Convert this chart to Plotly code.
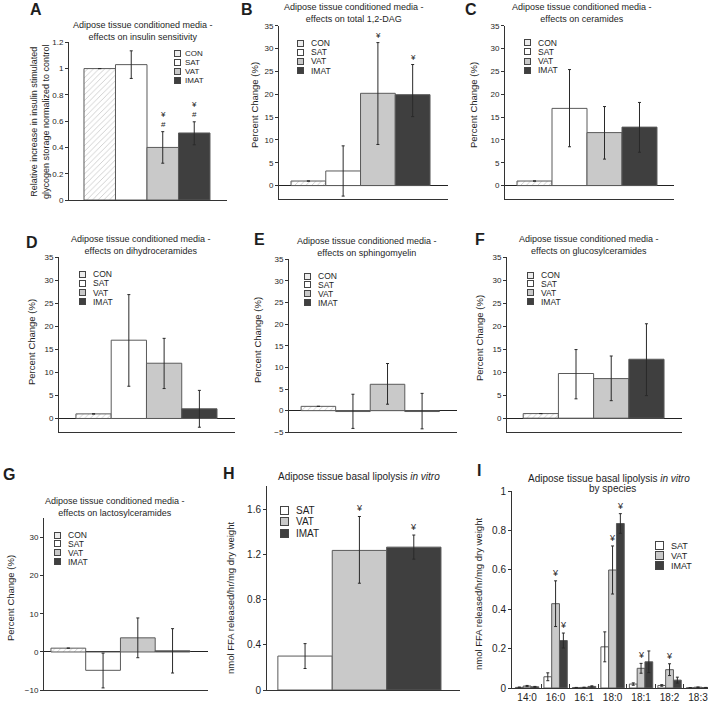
import plotly.graph_objects as go

W, H = 710, 703
FONT = "Liberation Sans, Arial, sans-serif"
TXT = "#1e1e1e"

# ---------------- data ----------------
groups4 = ["CON", "SAT", "VAT", "IMAT"]
groups3 = ["SAT", "VAT", "IMAT"]

# A: insulin sensitivity (relative, normalized to control)
A_vals = [1.0, 1.03, 0.40, 0.51]
A_hi = [0, 0.105, 0.12, 0.085]
A_lo = [0, 0.105, 0.12, 0.09]
A_sig = ["", "", "¥<br>#", "¥<br>#"]

# B: total 1,2-DAG (% change)
B_vals = [1.0, 3.2, 20.2, 19.9]
B_hi = [0, 5.5, 11.1, 6.6]
B_lo = [0, 5.5, 11.2, 4.8]
B_sig = ["", "", "¥", "¥"]

# C: ceramides
C_vals = [1.0, 16.9, 11.6, 12.8]
C_hi = [0, 8.5, 5.7, 5.4]
C_lo = [0, 8.4, 5.8, 5.5]
C_sig = ["", "", "", ""]

# D: dihydroceramides
D_vals = [1.0, 17.0, 12.0, 2.1]
D_hi = [0, 9.9, 5.4, 4.0]
D_lo = [0, 10.0, 5.5, 4.0]
D_sig = ["", "", "", ""]

# E: sphingomyelin
E_vals = [1.0, -0.2, 6.1, -0.2]
E_hi = [0, 4.0, 4.8, 4.2]
E_lo = [0, 3.9, 4.6, 4.0]
E_sig = ["", "", "", ""]

# F: glucosylceramides
F_vals = [1.0, 9.7, 8.6, 12.8]
F_hi = [0, 5.2, 4.9, 7.7]
F_lo = [0, 5.5, 4.8, 7.9]
F_sig = ["", "", "", ""]

# G: lactosylceramides
G_vals = [1.0, -4.8, 3.7, 0.3]
G_hi = [0, 4.5, 5.2, 5.8]
G_lo = [0, 4.6, 5.2, 5.8]
G_sig = ["", "", "", ""]

# H: basal lipolysis (nmol FFA released/hr/mg dry weight)
H_vals = [0.30, 1.234, 1.263]
H_hi = [0.11, 0.30, 0.107]
H_lo = [0.11, 0.29, 0.106]
H_sig = ["", "¥", "¥"]

# I: basal lipolysis by species
species = ["14:0", "16:0", "16:1", "18:0", "18:1", "18:2", "18:3"]
I_SAT = [0.003, 0.057, 0.002, 0.209, 0.020, 0.013, 0.001]
I_SAT_err = [0.002, 0.020, 0.001, 0.076, 0.006, 0.004, 0.001]
I_VAT = [0.010, 0.428, 0.003, 0.599, 0.100, 0.093, 0.004]
I_VAT_err = [0.003, 0.116, 0.001, 0.122, 0.025, 0.030, 0.001]
I_IMAT = [0.006, 0.241, 0.008, 0.835, 0.133, 0.040, 0.002]
I_IMAT_err = [0.002, 0.038, 0.003, 0.050, 0.055, 0.015, 0.001]
I_SAT_sig = ["", "", "", "", "", "", ""]
I_VAT_sig = ["", "¥", "", "¥", "¥", "¥", ""]
I_IMAT_sig = ["", "¥", "", "¥", "", "", ""]

# ---------------- styles ----------------
fill = {"CON": "white", "SAT": "white", "VAT": "#c9c9c9", "IMAT": "#3f3f3f"}
hatch = {"CON": "/", "SAT": "", "VAT": "", "IMAT": ""}
legend_bg = {"CON": "#ececec", "SAT": "white", "VAT": "#c9c9c9", "IMAT": "#3f3f3f"}
EDGE = "#5a5a5a"
ERR = dict(color="#2a2a2a", thickness=1, width=1.5)


def fx(px):
    return px / W


def fy(py):
    return 1 - py / H


fig = go.Figure()
annotations = []
layout_axes = {}


def axis_names(i):
    return ("x" if i == 1 else f"x{i}"), ("y" if i == 1 else f"y{i}")


def add_axes(i, xd, yd, yr, dtick, xr, zeroline, tickfs, xcat_labels=False):
    xn, yn = axis_names(i)
    xkey = "xaxis" if i == 1 else f"xaxis{i}"
    ykey = "yaxis" if i == 1 else f"yaxis{i}"
    xa = dict(domain=[fx(xd[0]), fx(xd[1])], range=xr, anchor=yn, type="category",
              showline=True, linecolor="#333", linewidth=1, showgrid=False,
              zeroline=False, fixedrange=True, automargin=False)
    if xcat_labels:
        xa.update(showticklabels=True, ticks="inside", tickson="boundaries",
                  ticklen=4, tickcolor="#333", tickangle=0,
                  tickfont=dict(family=FONT, size=10, color=TXT))
    else:
        xa.update(showticklabels=False, ticks="")
    ya = dict(domain=[fy(yd[1]), fy(yd[0])], range=yr, anchor=xn, dtick=dtick, tick0=0,
              showline=True, linecolor="#333", linewidth=1, ticks="outside",
              ticklen=3, tickcolor="#333", showgrid=False, automargin=False,
              zeroline=zeroline, zerolinecolor="#222", zerolinewidth=1, fixedrange=True,
              tickfont=dict(family=FONT, size=tickfs, color=TXT))
    layout_axes[xkey] = xa
    layout_axes[ykey] = ya


def legend(items, cx, ys, tx, box, fs):
    for g, y in zip(items, ys):
        annotations.append(dict(xref="paper", yref="paper", x=fx(cx), y=fy(y),
                                text=" ", showarrow=False, width=box, height=box,
                                bgcolor=legend_bg[g], bordercolor="#444", borderwidth=1,
                                borderpad=0, font=dict(size=1), xanchor="center",
                                yanchor="middle"))
        annotations.append(dict(xref="paper", yref="paper", x=fx(tx), y=fy(y),
                                text=g, showarrow=False, xanchor="left", yanchor="middle",
                                font=dict(family=FONT, size=fs, color=TXT)))


def text(t, x, y, fs, angle=0, bold=False, xanchor="center"):
    annotations.append(dict(xref="paper", yref="paper", x=fx(x), y=fy(y),
                            text=(f"<b>{t}</b>" if bold else t), showarrow=False,
                            textangle=angle, xanchor=xanchor, yanchor="middle",
                            font=dict(family=FONT, size=fs, color=TXT)))


def sig_marks(i, xs, vals, hi, sigs, fs, offset=0.0):
    xn, yn = axis_names(i)
    for k, (v, e, s) in enumerate(zip(vals, hi, sigs)):
        if s:
            annotations.append(dict(xref=xn, yref=yn, x=k + offset, y=v + e, text=s,
                                    showarrow=False, yanchor="bottom", yshift=1,
                                    font=dict(family=FONT, size=fs, color=TXT)))


# ---------------- panels A-G ----------------
four_panels = [
    ("A", A_vals, A_hi, A_lo, A_sig, (69, 227), (42.3, 200), [0, 1.2], 0.2, [-0.976, 4.04], False),
    ("B", B_vals, B_hi, B_lo, B_sig, (279, 448), (25.7, 199.3), [-3, 35], 5, [-0.846, 4.017], True),
    ("C", C_vals, C_hi, C_lo, C_sig, (505, 674), (25.7, 199.3), [-3, 35], 5, [-0.843, 3.986], True),
    ("D", D_vals, D_hi, D_lo, D_sig, (59, 235), (257.3, 432.3), [-3, 35], 5, [-0.98, 4.01], True),
    ("E", E_vals, E_hi, E_lo, E_sig, (289, 457), (259.3, 432.3), [-5, 35], 5, [-0.85, 4.01], True),
    ("F", F_vals, F_hi, F_lo, F_sig, (507, 682), (257, 432), [-3, 35], 5, [-0.96, 4.01], True),
    ("G", G_vals, G_hi, G_lo, G_sig, (44, 208), (518.2, 690.2), [-10, 35], 10, [-0.70, 4.02], True),
]

for i, (key, vals, hi, lo, sig, xd, yd, yr, dt, xr, zl) in enumerate(four_panels, start=1):
    xn, yn = axis_names(i)
    fig.add_trace(go.Bar(
        x=groups4, y=vals, width=1, xaxis=xn, yaxis=yn, showlegend=False,
        marker=dict(color=[fill[g] for g in groups4], line=dict(color=EDGE, width=1),
                    pattern=dict(shape=[hatch[g] for g in groups4], fgcolor="#c4c4c4",
                                 size=4, solidity=0.12)),
        error_y=dict(type="data", symmetric=False, array=hi, arrayminus=lo, **ERR),
    ))
    add_axes(i, xd, yd, yr, dt, xr, zl, 8)
    sig_marks(i, groups4, vals, hi, sig, 8)

# ---------------- panel H ----------------
fig.add_trace(go.Bar(
    x=groups3, y=H_vals, width=1, xaxis="x8", yaxis="y8", showlegend=False,
    marker=dict(color=[fill[g] for g in groups3], line=dict(color=EDGE, width=1)),
    error_y=dict(type="data", symmetric=False, array=H_hi, arrayminus=H_lo, **ERR),
))
add_axes(8, (267, 460), (486.4, 690), [0, 1.8], 0.4, [-0.70, 2.85], False, 10)
sig_marks(8, groups3, H_vals, H_hi, H_sig, 9)

# ---------------- panel I ----------------
I_series = [("SAT", I_SAT, I_SAT_err, I_SAT_sig), ("VAT", I_VAT, I_VAT_err, I_VAT_sig),
            ("IMAT", I_IMAT, I_IMAT_err, I_IMAT_sig)]
BARGAP = 0.18
bw = (1 - BARGAP) / 3
for j, (g, vals, err, sig) in enumerate(I_series):
    fig.add_trace(go.Bar(
        x=species, y=vals, name=g, xaxis="x9", yaxis="y9", showlegend=False,
        marker=dict(color=fill[g], line=dict(color=EDGE, width=1)),
        error_y=dict(type="data", array=err, **ERR),
    ))
    sig_marks(9, species, vals, err, sig, 9, offset=(j - 1) * bw)
add_axes(9, (512, 708), (491, 688), [0, 1], 0.2, [-0.53, 6.35], False, 10, xcat_labels=True)

# ---------------- titles, letters, axis titles ----------------
sub = "Adipose tissue conditioned media -<br>"
text(sub + "effects on insulin sensitivity", 143, 30.5, 9)
text(sub + "effects on total 1,2-DAG", 354, 13, 9)
text(sub + "effects on ceramides", 582, 13, 9)
text(sub + "effects on dihydroceramides", 141, 245, 9)
text(sub + "effects on sphingomyelin", 367, 247, 9)
text(sub + "effects on glucosylceramides", 589, 245, 9)
text(sub + "effects on lactosylceramides", 115, 507, 9)
text("Adipose tissue basal lipolysis <i>in vitro</i>", 359, 476, 10)
text("Adipose tissue basal lipolysis <i>in vitro</i>", 609, 478, 10)
text("by species", 612, 488.5, 10)

for letter, x, y in [("A", 36, 10), ("B", 247, 10), ("C", 471, 10), ("D", 32, 242),
                     ("E", 259, 240), ("F", 480, 240), ("G", 9, 474), ("H", 229, 473),
                     ("I", 479, 470)]:
    text(letter, x, y, 16, bold=True)

text("Relative increase in insulin stimulated<br>glycogen storage normalized to control",
     40, 122, 9, angle=-90)
for x, y in [(254, 105), (473, 105), (31, 342), (257, 340), (479, 338), (10, 598)]:
    text("Percent Change (%)", x, y, 9.5, angle=-90)
text("nmol FFA released/hr/mg dry weight", 230, 598, 9.5, angle=-90)
text("nmol FFA released/hr/mg dry weight", 478, 594, 9.5, angle=-90)

# ---------------- legends ----------------
legend(groups4, 177, [53.6, 62.4, 71.2, 80.0], 182.5, 5, 8)
legend(groups4, 300, [43.3, 52.4, 61.5, 70.6], 309, 5, 8.5)
legend(groups4, 527, [42.7, 51.9, 61.1, 70.3], 536, 5, 8.5)
legend(groups4, 82, [274.3, 283.4, 292.5, 301.6], 91, 5, 8.5)
legend(groups4, 307, [276, 284.9, 293.8, 302.7], 316, 5, 8.5)
legend(groups4, 530, [275, 283.9, 292.8, 301.7], 539, 5, 8.5)
legend(groups4, 57, [535, 543.9, 552.8, 561.7], 65.5, 5, 8.5)
legend(groups3, 284, [510, 521.8, 533.6], 294, 7, 10)
legend(groups3, 659, [545.5, 555.5, 565.5], 669, 6.5, 9)

fig.update_layout(
    width=W, height=H, margin=dict(l=0, r=0, t=0, b=0, autoexpand=False),
    paper_bgcolor="white", plot_bgcolor="white",
    barmode="group", bargap=BARGAP, bargroupgap=0,
    showlegend=False, annotations=annotations, hovermode=False,
    font=dict(family=FONT, size=9, color=TXT),
    **layout_axes,
)

fig.write_html(
    "out.html",
    config={"displayModeBar": False, "staticPlot": True},
    post_script="document.body.style.margin='0';document.body.style.overflow='hidden';",
)
